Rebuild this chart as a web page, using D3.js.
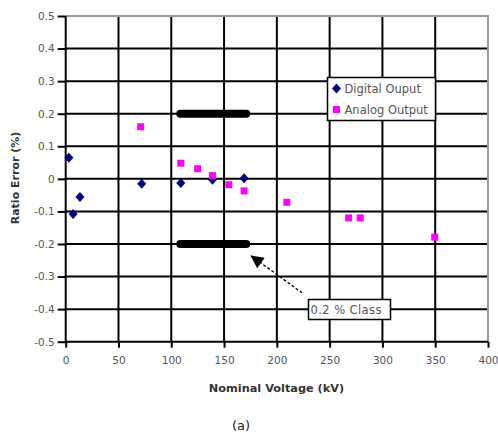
<!DOCTYPE html>
<html>
<head>
<meta charset="utf-8">
<script src="https://cdn.jsdelivr.net/npm/d3@7"></script>
<style>
  html, body { margin: 0; padding: 0; background: #fff; }
  svg { display: block; }
  text { font-family: "DejaVu Sans", Verdana, sans-serif; }
</style>
</head>
<body>
<svg id="chart" width="498" height="434"></svg>
<script>
// ---- data ----
const xTicks = [0, 50, 100, 150, 200, 250, 300, 350, 400];
const yTicks = [0.5, 0.4, 0.3, 0.2, 0.1, 0, -0.1, -0.2, -0.3, -0.4, -0.5];
const digitalX = [3, 7, 13.5, 72, 109, 139, 169];
const digitalY = [0.065, -0.108, -0.056, -0.015, -0.013, -0.003, 0.002];
const analogX = [71, 109, 125, 139, 154.5, 169, 209.5, 268, 279, 349.5];
const analogY = [0.16, 0.048, 0.031, 0.01, -0.018, -0.037, -0.072, -0.12, -0.12, -0.179];
const classStart = [108.5, 108.5];
const classEnd = [171, 171];
const classY = [0.2, -0.2];
const arrowFrom = [224, -0.35];
const arrowTo = [175, -0.235];
const seriesNames = ["Digital Ouput", "Analog Output"];
const xTitle = "Nominal Voltage (kV)";
const yTitle = "Ratio Error (%)";
const classLabel = "0.2 % Class";
const caption = "(a)";

// ---- layout ----
const L = 65.7, R = 488, T = 16, B = 341.7;
const svg = d3.select("#chart");
const x = d3.scaleLinear().domain([0, 400]).range([L, R]);
const y = d3.scaleLinear().domain([-0.5, 0.5]).range([B, T]);

// gridlines
const grid = svg.append("g");
grid.selectAll("line.h").data(yTicks.filter(d => d !== 0.5 && d !== -0.5)).join("line")
  .attr("x1", L).attr("x2", R).attr("y1", d => y(d)).attr("y2", d => y(d))
  .attr("stroke", "#000").attr("stroke-width", 2);
grid.selectAll("line.v").data(xTicks.filter(d => d !== 0 && d !== 400)).join("line")
  .attr("y1", T).attr("y2", B).attr("x1", d => x(d)).attr("x2", d => x(d))
  .attr("stroke", "#000").attr("stroke-width", 2);
// gray top / right border
svg.append("path").attr("d", `M${L},${T}H${R}V${B}`).attr("fill", "none")
  .attr("stroke", "#999").attr("stroke-width", 2);

// axes
const yAxis = d3.axisLeft(y).tickValues(yTicks).tickSize(8).tickPadding(3)
  .tickFormat(d => d === 0 ? "0" : d.toFixed(1));
const gy = svg.append("g").attr("transform", `translate(${L},0)`).call(yAxis);
const xAxis = d3.axisBottom(x).tickValues(xTicks).tickSize(6).tickPadding(9);
const gx = svg.append("g").attr("transform", `translate(0,${B})`).call(xAxis);
[gy, gx].forEach(g => {
  g.select(".domain").attr("stroke", "#000").attr("stroke-width", 2);
  g.selectAll(".tick line").attr("stroke", "#000").attr("stroke-width", 2);
  g.selectAll(".tick text").attr("fill", "#555").attr("font-size", 10.5)
    .attr("font-family", "'DejaVu Sans', Verdana, sans-serif");
});
gy.select(".domain").attr("d", `M0,${T}V${B}`);
gx.select(".domain").attr("d", `M${L},0H${R}`);

// class limit bars
svg.append("g").selectAll("line").data(classY).join("line")
  .attr("x1", (d, i) => x(classStart[i])).attr("x2", (d, i) => x(classEnd[i]))
  .attr("y1", d => y(d)).attr("y2", d => y(d))
  .attr("stroke", "#000").attr("stroke-width", 8).attr("stroke-linecap", "round");

// arrow
const defs = svg.append("defs");
defs.append("marker").attr("id", "ah").attr("viewBox", "0 0 10 10")
  .attr("refX", 10).attr("refY", 5).attr("markerWidth", 15).attr("markerHeight", 13)
  .attr("markerUnits", "userSpaceOnUse").attr("orient", "auto")
  .append("path").attr("d", "M0,0L10,5L0,10Z").attr("fill", "#000");
svg.append("line")
  .attr("x1", x(arrowFrom[0])).attr("y1", y(arrowFrom[1]))
  .attr("x2", x(arrowTo[0])).attr("y2", y(arrowTo[1]))
  .attr("stroke", "#000").attr("stroke-width", 1.3).attr("stroke-dasharray", "3,2")
  .attr("marker-end", "url(#ah)");

// class label
const lb = svg.append("g");
lb.append("rect").attr("x", 308.5).attr("y", 299.5).attr("width", 82).attr("height", 20)
  .attr("fill", "#fff").attr("stroke", "#000").attr("stroke-width", 1.5);
lb.append("text").attr("x", 310.5).attr("y", 313.5).attr("font-size", 11.5).attr("fill", "#555")
  .attr("textLength", 71).attr("lengthAdjust", "spacing")
  .text(classLabel);

// digital points (diamonds)
const digital = digitalX.map((d, i) => [d, digitalY[i]]);
const analog = analogX.map((d, i) => [d, analogY[i]]);
svg.append("g").selectAll("path").data(digital).join("path")
  .attr("transform", d => `translate(${x(d[0])},${y(d[1])})`)
  .attr("d", "M0,-5L4.5,0L0,5L-4.5,0Z").attr("fill", "#000080");
svg.append("g").selectAll("rect").data(analog).join("rect")
  .attr("x", d => x(d[0]) - 3.5).attr("y", d => y(d[1]) - 3.5)
  .attr("width", 7).attr("height", 7).attr("fill", "#ff00ff");

// legend
const lg = svg.append("g");
lg.append("rect").attr("x", 327.5).attr("y", 77.5).attr("width", 108).attr("height", 43)
  .attr("fill", "#fff").attr("stroke", "#000").attr("stroke-width", 1.5);
lg.append("path").attr("transform", "translate(336.5,88.5)")
  .attr("d", "M0,-5L4.5,0L0,5L-4.5,0Z").attr("fill", "#000080");
lg.append("rect").attr("x", 333).attr("y", 106).attr("width", 7).attr("height", 7).attr("fill", "#ff00ff");
lg.selectAll("text").data(seriesNames).join("text")
  .attr("x", 344.5).attr("y", (d, i) => 92.5 + i * 21)
  .attr("font-size", 11.5).attr("fill", "#555").text(d => d);

// axis titles
svg.append("text").attr("x", 276.5).attr("y", 392).attr("text-anchor", "middle")
  .attr("font-size", 11.3).attr("font-weight", "bold").attr("fill", "#333")
  .text(xTitle);
svg.append("text").attr("transform", "translate(19,178) rotate(-90)").attr("text-anchor", "middle")
  .attr("font-size", 11).attr("font-weight", "bold").attr("fill", "#333").text(yTitle);

// caption
svg.append("text").attr("x", 241).attr("y", 430).attr("text-anchor", "middle")
  .attr("font-size", 13).attr("fill", "#222")
  .attr("font-family", "'Liberation Serif', 'Times New Roman', serif").text(caption);
</script>
</body>
</html>
